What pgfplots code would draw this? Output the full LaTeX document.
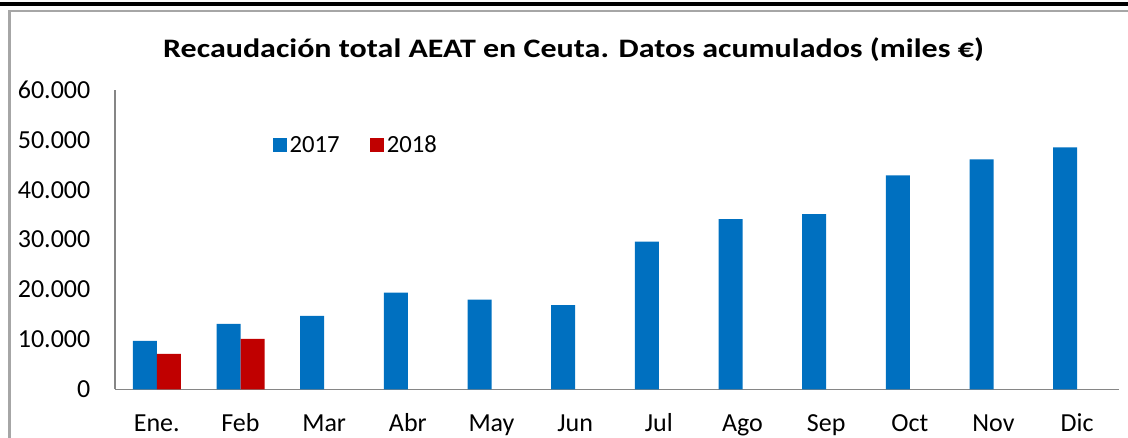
\documentclass[border=0pt]{standalone}
\usepackage{pgfplots}
\pgfplotsset{compat=1.18}
\usepackage{fontspec}
\setmainfont{Carlito}
\definecolor{cblue}{HTML}{0070C0}
\definecolor{cred}{HTML}{C00000}
\definecolor{axgray}{HTML}{868686}
\definecolor{frgray}{HTML}{A6A6A6}
\begin{document}
\begin{tikzpicture}
\useasboundingbox (0,0) rectangle (846pt,328.5pt);
\begin{scope}[x=0.75pt,y=0.75pt]
\fill[black] (0,432) rectangle (1128,435.5);
\draw[frgray,line width=1.6pt] (9.5,0) -- (9.5,427) -- (1128,427);
\node[anchor=base,font=\bfseries\fontsize{20}{24}\selectfont] at (573.5,380) {\scalebox{1.2}[1]{Recaudación total AEAT en Ceuta. Datos acumulados (miles €)}};
\end{scope}
\begin{axis}[
  at={(86.25pt,36.5pt)}, anchor=south west,
  scale only axis, width=753pt, height=224.5pt,
  xmin=-0.5, xmax=11.5, ymin=0, ymax=60000,
  ybar=0pt, bar width=18pt,
  axis x line*=bottom, axis y line*=left,
  axis line style={axgray,line width=1.1pt},
  x axis line style={-}, y axis line style={-},
  major tick length=0pt,
  xtick={0,...,11},
  xticklabels={Ene.,Feb,Mar,Abr,May,Jun,Jul,Ago,Sep,Oct,Nov,Dic},
  ytick={0,10000,20000,30000,40000,50000,60000},
  scaled y ticks=false,
  /pgf/number format/.cd, 1000 sep={.}, assume math mode=true, /pgfplots/.cd,
  yticklabel style={font=\fontsize{19.5}{22}\selectfont, xshift=-15pt},
  xticklabel style={font=\fontsize{19.5}{22}\selectfont, anchor=base, yshift=-31.5pt},
  legend style={at={(0.157,0.816)}, anchor=west, draw=none, fill=none,
    inner xsep=0pt, inner ysep=0pt, legend columns=2,
    font=\fontsize{18.5}{21}\selectfont,
    /tikz/every even column/.append style={column sep=21pt}},
  legend image code/.code={\fill[#1] (0pt,-5.25pt) rectangle (10.5pt,5.25pt);},
]
\addplot[fill=cblue,draw=none] coordinates {(0,9700) (1,13100) (2,14700) (3,19400) (4,18000) (5,16900) (6,29600) (7,34100) (8,35100) (9,42900) (10,46100) (11,48500)};
\addplot[fill=cred,draw=none] coordinates {(0,7100) (1,10100)};
\legend{2017,2018}
\end{axis}
\end{tikzpicture}
\end{document}
